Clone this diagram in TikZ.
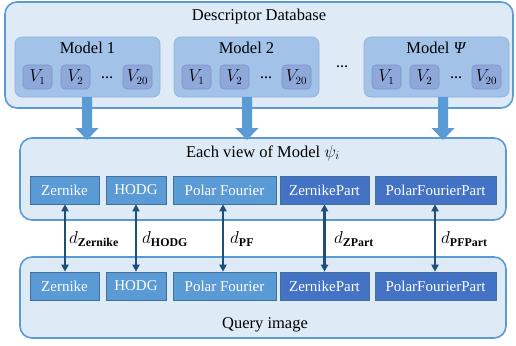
\documentclass[tikz,border=0pt]{standalone}
\usepackage{fontspec}
\setmainfont{Liberation Serif}
\usetikzlibrary{arrows.meta}
\definecolor{panelfill}{HTML}{DEEAF6}
\definecolor{panelline}{HTML}{5B9BD5}
\definecolor{modelfill}{HTML}{A2C2E8}
\definecolor{modelline}{HTML}{8DB2DF}
\definecolor{viewfill}{HTML}{8FA8DA}
\definecolor{viewline}{HTML}{7D96CC}
\definecolor{featlight}{HTML}{5B9BD5}
\definecolor{featdark}{HTML}{4472C4}
\definecolor{featline}{HTML}{41719C}
\definecolor{linkcol}{HTML}{1F4E79}
\tikzset{
  panel/.style={draw=panelline, line width=1.6pt, fill=panelfill, rounded corners=12pt},
  modelbox/.style={draw=modelline, line width=0.6pt, fill=modelfill, rounded corners=7pt},
  viewbox/.style={draw=viewline, line width=0.6pt, fill=viewfill, rounded corners=4pt},
  feat/.style={draw=featline, line width=0.6pt, text=white, font=\fontsize{15}{15}\selectfont, inner sep=0pt},
  title/.style={font=\fontsize{16.5}{16.5}\selectfont},
  vlabel/.style={font=\fontsize{16}{16}\selectfont, inner sep=0pt},
  link/.style={draw=linkcol, line width=2.2pt, {Triangle[length=7pt,width=7pt]}-{Triangle[length=7pt,width=7pt]}},
  dlabel/.style={anchor=west, font=\fontsize{17}{17}\selectfont, inner sep=0pt}
}
\begin{document}
\begin{tikzpicture}[x=1pt, y=-1pt]
\useasboundingbox (0,0) rectangle (516,345);

% descriptor database panel
\draw[panel] (5,2) rectangle (513,108);
\node[title] (dbtitle) at (259,17) {Descriptor Database};

% one model box with its views
\newcommand{\modelgroup}[3]{%
  \draw[modelbox] (#1,37) rectangle ++(145,60);
  \node[title] (#2-t) at (#1+72.5,48) {#3};
  \draw[viewbox] (#1+8,65) rectangle ++(29,24);
  \node[vlabel] (#2-v1) at (#1+22.5,77) {$V_1$};
  \draw[viewbox] (#1+46,65) rectangle ++(29,24);
  \node[vlabel] (#2-v2) at (#1+60.5,77) {$V_2$};
  \node (#2-dots) at (#1+92,78) {\fontsize{12}{12}\selectfont\textbf{…}};
  \draw[viewbox] (#1+108,65) rectangle ++(29,24);
  \node[vlabel] (#2-v20) at (#1+122.5,77) {$V_{20}$};
}
\modelgroup{15}{ma}{Model 1}
\modelgroup{174}{mb}{Model 2}
\modelgroup{364}{mc}{Model \textit{Ψ}}
\node (middots) at (342,67) {\fontsize{12}{12}\selectfont\textbf{…}};

% block arrows into the view panel
\newcommand{\blockarrow}[1]{%
  \fill[featlight] (#1-5,97) -- (#1+5,97) -- (#1+5,128) -- (#1+11.5,128)
    -- (#1,140) -- (#1-11.5,128) -- (#1-5,128) -- cycle;
}

% view panel
\draw[panel] (20,138) rectangle (506,220);
\blockarrow{87}
\blockarrow{247}
\blockarrow{443}
\node[title] (viewtitle) at (263,153) {Each view of Model $\psi_i$};

% query panel
\draw[panel] (20,257) rectangle (506,338);
\node[title] (qtitle) at (265,325) {Query image};

% feature boxes
\foreach \nm/\lx/\rx/\col/\txt in {
    zer/30/99/featlight/Zernike,
    hod/106/166/featlight/HODG,
    pf/173/276/featlight/Polar Fourier,
    zp/280/369/featdark/ZernikePart,
    pfp/375/496/featdark/PolarFourierPart}{
  \node[feat, fill=\col, minimum width={\rx-\lx}, minimum height=28pt] (t-\nm) at ({(\lx+\rx)/2},190) {\txt};
  \node[feat, fill=\col, minimum width={\rx-\lx}, minimum height=28pt] (q-\nm) at ({(\lx+\rx)/2},286) {\txt};
}

% distance links
\draw[link] (t-zer.south -| 65,0) -- (q-zer.north -| 65,0);
\draw[link] (t-hod) -- (q-hod);
\draw[link] (t-pf.south -| 223,0) -- (q-pf.north -| 223,0);
\draw[link] (t-zp) -- (q-zp);
\draw[link] (t-pfp.south -| 435,0) -- (q-pfp.north -| 435,0);

\node[dlabel] (l-zer) at (69,239) {$d_{\mathbf{Zernike}}$};
\node[dlabel] (l-hod) at (142,239) {$d_{\mathbf{HODG}}$};
\node[dlabel] (l-pf) at (230,239) {$d_{\mathbf{PF}}$};
\node[dlabel] (l-zp) at (334,239) {$d_{\mathbf{ZPart}}$};
\node[dlabel] (l-pfp) at (441,239) {$d_{\mathbf{PFPart}}$};
\end{tikzpicture}
\end{document}
